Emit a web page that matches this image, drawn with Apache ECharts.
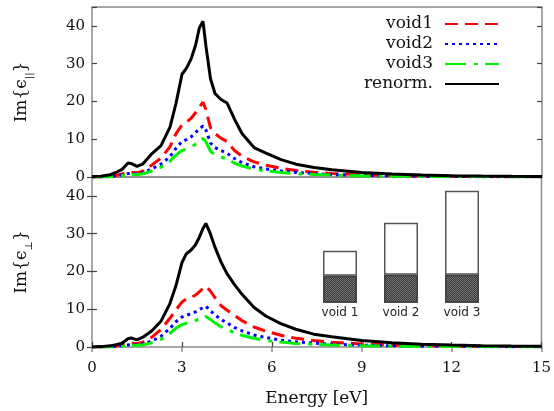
<!DOCTYPE html>
<html>
<head>
<meta charset="utf-8">
<script src="https://cdn.jsdelivr.net/npm/echarts@6/dist/echarts.min.js"></script>
<style>
  html, body { margin: 0; padding: 0; background: #fff; }
  #chart { width: 554px; height: 411px; }
</style>
</head>
<body>
<div id="chart"></div>
<script>
// Photon energy grid (eV) shared by every spectrum
const energy = [0, 0.3, 0.6, 0.8, 1.0, 1.2, 1.3, 1.5, 1.7, 2.0, 2.3, 2.6, 2.8, 3.0, 3.15, 3.3, 3.45, 3.58, 3.7, 3.8,
  3.95, 4.1, 4.3, 4.5, 4.75, 5.0, 5.4, 5.8, 6.3, 6.8, 7.4, 8.0, 9.0, 10, 11, 12, 13, 14, 15];

// Im{eps_parallel}
const parVoid1 = [0, 0.05, 0.15, 0.4, 0.8, 1.3, 1.3, 1.1, 1.6, 3.2, 5.0, 8.0, 11.5, 13.8, 14.5, 15.5, 17.0, 18.5, 19.8, 17.8,
  13.0, 11.5, 10.3, 9.4, 7.0, 5.5, 4.0, 3.1, 2.3, 1.7, 1.25, 0.95, 0.6, 0.4, 0.25, 0.18, 0.12, 0.09, 0.06];
const parVoid2 = [0, 0.03, 0.1, 0.3, 0.55, 0.9, 0.9, 0.8, 1.1, 2.2, 3.4, 5.4, 7.6, 9.4, 9.9, 10.6, 11.7, 12.8, 13.5, 12.4,
  9.0, 7.8, 7.0, 6.3, 4.9, 3.8, 2.7, 2.1, 1.6, 1.2, 0.85, 0.65, 0.42, 0.28, 0.18, 0.12, 0.08, 0.06, 0.04];
const parVoid3 = [0, 0.02, 0.08, 0.2, 0.4, 0.7, 0.7, 0.6, 0.85, 1.6, 2.6, 4.2, 5.8, 7.0, 7.4, 7.9, 8.7, 9.6, 10.2, 9.3,
  6.8, 5.9, 5.3, 4.8, 3.7, 2.9, 2.1, 1.6, 1.2, 0.9, 0.65, 0.5, 0.32, 0.21, 0.14, 0.09, 0.06, 0.05, 0.03];
const parRenorm = [0.1, 0.2, 0.6, 1.2, 2.0, 3.7, 3.6, 2.8, 3.5, 6.2, 8.3, 13.2, 19.5, 27.2, 28.8, 31.2, 34.8, 39.5, 41.2, 34.5,
  26.0, 22.1, 20.5, 19.6, 15.3, 11.5, 7.8, 6.3, 4.6, 3.4, 2.5, 1.9, 1.2, 0.8, 0.5, 0.35, 0.25, 0.18, 0.12];

// Im{eps_perp}
const perpVoid1 = [0, 0.02, 0.1, 0.25, 0.45, 0.9, 1.0, 0.9, 1.3, 2.6, 4.6, 7.6, 9.8, 11.9, 12.7, 13.1, 13.7, 14.6, 15.5, 16.1,
  14.8, 13.1, 11.0, 9.8, 8.4, 7.0, 5.3, 4.2, 3.1, 2.3, 1.7, 1.25, 0.8, 0.55, 0.37, 0.25, 0.18, 0.13, 0.09];
const perpVoid2 = [0, 0.01, 0.06, 0.15, 0.3, 0.55, 0.6, 0.55, 0.85, 1.6, 2.8, 4.9, 6.7, 7.9, 8.4, 8.8, 9.3, 9.9, 10.4, 10.8,
  9.6, 8.5, 7.3, 6.4, 5.2, 4.3, 3.2, 2.5, 1.8, 1.35, 1.0, 0.75, 0.48, 0.32, 0.22, 0.15, 0.1, 0.08, 0.06];
const perpVoid3 = [0, 0.01, 0.04, 0.1, 0.2, 0.4, 0.45, 0.4, 0.6, 1.1, 2.0, 3.6, 5.0, 5.9, 6.3, 6.6, 7.0, 7.5, 7.9, 8.1,
  7.3, 6.4, 5.4, 4.7, 3.8, 3.1, 2.3, 1.75, 1.3, 0.95, 0.7, 0.52, 0.33, 0.22, 0.15, 0.1, 0.07, 0.05, 0.04];
const perpRenorm = [0, 0.1, 0.3, 0.6, 1.0, 2.2, 2.4, 1.9, 2.6, 4.3, 6.8, 11.5, 16.2, 22.3, 24.7, 25.6, 27.0, 29.0, 31.3, 32.7,
  30.0, 26.5, 22.6, 19.5, 16.6, 14.0, 10.5, 8.2, 6.2, 4.7, 3.4, 2.7, 1.7, 1.1, 0.75, 0.5, 0.35, 0.25, 0.18];

// Axis ticks
const energyTicks = [0, 3, 6, 9, 12, 15];
const imTicks = [0, 10, 20, 30, 40];

// Void size sketch: filled part and total height of each column
const insetLabels = ['void 1', 'void 2', 'void 3'];
const insetFilled = [27, 28, 28];
const insetTotal = [52, 80, 112];

const legendNames = ['void1', 'void2', 'void3', 'renorm.'];

const SERIF = 'DejaVu Serif';
const frameColor = '#8c8c8c';
const tickColor = '#444';
const styles = {
  'void1': { color: '#ff0000', dash: [13, 7] },
  'void2': { color: '#0000ff', dash: [3, 4] },
  'void3': { color: '#00f000', dash: [21, 8, 4, 7] },
  'renorm.': { color: '#000000', dash: 'solid' }
};

function lineSeries(name, values, panel) {
  const s = styles[name];
  return {
    name: name,
    type: 'line',
    xAxisIndex: panel,
    yAxisIndex: panel,
    data: energy.map((e, i) => [e, values[i]]),
    symbol: 'none',
    showSymbol: false,
    lineStyle: { color: s.color, width: 3, type: s.dash, cap: 'butt' },
    itemStyle: { color: s.color },
    animation: false
  };
}

const tickLabelStyle = { fontFamily: SERIF, fontSize: 15, color: '#111' };
const imFormatter = v => (imTicks.indexOf(v) >= 0 ? String(v) : '');
const energyFormatter = v => (energyTicks.indexOf(v) >= 0 ? String(v) : '');

function yName(sub) {
  return 'Im{ϵ{s|' + sub + '}}';
}
const yNameStyle = {
  fontFamily: SERIF, fontSize: 17, color: '#111', lineHeight: 24,
  rich: { s: { fontFamily: SERIF, fontSize: 10, lineHeight: 12, verticalAlign: 'bottom', color: '#111' } }
};

function leftY(grid, name) {
  return {
    type: 'value', gridIndex: grid, min: 0, max: 45, interval: 10, position: 'left',
    axisLine: { show: false }, splitLine: { show: false },
    axisTick: { show: true, inside: true, length: 5, lineStyle: { color: tickColor, width: 1.2 } },
    axisLabel: Object.assign({ margin: 7, formatter: imFormatter }, tickLabelStyle),
    name: name, nameLocation: 'middle', nameRotate: 90, nameGap: 58, nameTextStyle: yNameStyle
  };
}
function rightY(grid) {
  return {
    type: 'value', gridIndex: grid, min: 0, max: 45, interval: 10, position: 'right',
    axisLine: { show: false }, splitLine: { show: false }, axisLabel: { show: false },
    axisTick: { show: true, inside: true, length: 5, lineStyle: { color: tickColor, width: 1.2 } }
  };
}

const chart = echarts.init(document.getElementById('chart'), null, { renderer: 'canvas' });
chart.setOption({
  animation: false,
  backgroundColor: '#fff',
  grid: [
    { left: 92, right: 12, top: 7, height: 170, show: true, borderColor: frameColor, borderWidth: 1.5, backgroundColor: 'transparent' },
    { left: 92, right: 12, top: 177, height: 170, show: true, borderColor: frameColor, borderWidth: 1.5, backgroundColor: 'transparent' },
    { left: 309.5, width: 183, top: 182.7, height: 120, show: false }
  ],
  legend: {
    data: legendNames,
    orient: 'vertical',
    align: 'right',
    right: 54,
    top: 15.5,
    padding: 0,
    itemWidth: 54,
    itemHeight: 14,
    itemGap: 3,
    selectedMode: false,
    itemStyle: { opacity: 0 },
    textStyle: { fontFamily: SERIF, fontSize: 17, color: '#111', lineHeight: 17, padding: [0, 7, 0, 0] }
  },
  xAxis: [
    {
      type: 'value', gridIndex: 0, min: 0, max: 15, interval: 3,
      axisLine: { show: false }, axisTick: { show: false }, axisLabel: { show: false }, splitLine: { show: false }
    },
    {
      type: 'value', gridIndex: 1, min: 0, max: 15, interval: 3, position: 'bottom',
      axisLine: { show: false }, splitLine: { show: false },
      axisTick: { show: true, inside: true, length: 5, lineStyle: { color: tickColor, width: 1.2 } },
      axisLabel: Object.assign({ margin: 14, formatter: energyFormatter }, tickLabelStyle),
      name: 'Energy [eV]', nameLocation: 'middle', nameGap: 43,
      nameTextStyle: { fontFamily: SERIF, fontSize: 17, color: '#111' }
    },
    {
      type: 'value', gridIndex: 1, min: 0, max: 15, interval: 3, position: 'top',
      axisLine: { show: false }, splitLine: { show: false }, axisLabel: { show: false },
      axisTick: { show: true, inside: true, length: 5, lineStyle: { color: frameColor, width: 1.5 } }
    },
    {
      type: 'category', gridIndex: 2, data: insetLabels,
      axisLine: { show: false }, axisTick: { show: false }, splitLine: { show: false },
      axisLabel: { fontFamily: 'DejaVu Sans', fontSize: 12, color: '#222', margin: 4 }
    }
  ],
  yAxis: [
    leftY(0, yName('||')),
    leftY(1, yName('⊥')),
    rightY(0),
    rightY(1),
    { type: 'value', gridIndex: 2, min: 0, max: 120, show: false }
  ],
  series: [
    lineSeries('void1', parVoid1, 0),
    lineSeries('void2', parVoid2, 0),
    lineSeries('void3', parVoid3, 0),
    lineSeries('renorm.', parRenorm, 0),
    lineSeries('void1', perpVoid1, 1),
    lineSeries('void2', perpVoid2, 1),
    lineSeries('void3', perpVoid3, 1),
    lineSeries('renorm.', perpRenorm, 1),
    {
      name: 'filled', type: 'bar', stack: 'inset', xAxisIndex: 3, yAxisIndex: 4, barWidth: 34,
      data: insetFilled, animation: false,
      itemStyle: {
        color: '#777', borderColor: '#444', borderWidth: 1.5,
        decal: { symbol: 'rect', symbolSize: 1, dashArrayX: [[1, 1], [0, 1, 1, 0]], dashArrayY: [1, 0], color: 'rgba(40,40,40,0.8)', rotation: 0 }
      }
    },
    {
      name: 'empty', type: 'bar', stack: 'inset', xAxisIndex: 3, yAxisIndex: 4, barWidth: 34,
      data: insetTotal.map((t, i) => t - insetFilled[i]), animation: false,
      itemStyle: { color: '#fff', borderColor: '#555', borderWidth: 1.5 }
    }
  ]
});
</script>
</body>
</html>
